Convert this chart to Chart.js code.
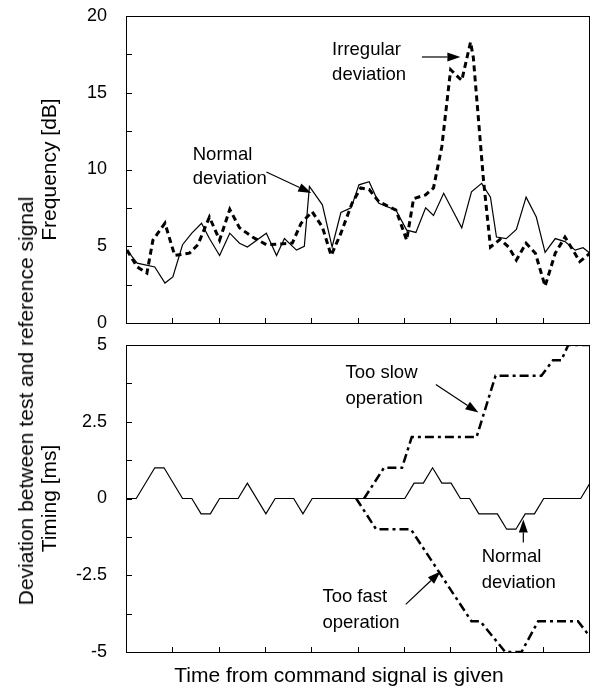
<!DOCTYPE html>
<html>
<head>
<meta charset="utf-8">
<script src="https://cdn.jsdelivr.net/npm/chart.js@4.4.1/dist/chart.umd.min.js"></script>
<style>
  body { margin: 0; background: #fff; font-family: "Liberation Sans", Arial, sans-serif; color: #000; }
  #wrap { position: relative; width: 591px; height: 689px; overflow: hidden; }
  canvas { position: absolute; left: 0; }
  #freqChart { top: 0; }
  #timingChart { top: 335px; }
  .side-title { position: absolute; left: 26px; top: 401px; transform: translate(-50%, -50%) rotate(-90deg); white-space: nowrap; font-size: 21px; }
  .bottom-title { position: absolute; left: 339px; top: 675px; transform: translate(-50%, -50%); white-space: nowrap; font-size: 21px; }
</style>
</head>
<body>
<div id="wrap">
  <canvas id="freqChart" width="591" height="335"></canvas>
  <canvas id="timingChart" width="591" height="354"></canvas>
  <div class="side-title">Deviation between test and reference signal</div>
  <div class="bottom-title">Time from command signal is given</div>
</div>
<script>
// time axis runs 0..10 (one unit per tick mark, no labels)
const freqNormalX = [0, 0.22, 0.6, 0.82, 0.99, 1.2, 1.4, 1.61, 1.78, 2.0, 2.22, 2.43, 2.6, 3.01, 3.23, 3.4, 3.66, 3.83, 3.94, 4.22, 4.43, 4.62, 4.84, 5.01, 5.23, 5.44, 5.81, 6.04, 6.24, 6.45, 6.62, 6.84, 7.23, 7.44, 7.66, 7.85, 7.98, 8.19, 8.41, 8.62, 8.84, 9.03, 9.25, 9.46, 9.68, 9.85, 10];
const freqNormalY = [4.75, 3.9, 3.65, 2.6, 3.0, 5.1, 5.85, 6.5, 5.5, 4.4, 5.85, 5.2, 4.95, 5.85, 4.4, 5.5, 4.75, 5.0, 8.9, 7.7, 4.95, 7.2, 7.5, 9.0, 9.2, 7.8, 7.35, 6.05, 5.9, 7.5, 7.0, 8.45, 6.2, 8.55, 9.1, 8.2, 5.6, 5.5, 6.1, 8.2, 6.9, 4.6, 5.5, 5.3, 4.75, 4.9, 4.55];

const freqIrregularX = [0, 0.22, 0.43, 0.56, 0.82, 1.03, 1.35, 1.53, 1.78, 2.0, 2.22, 2.43, 2.71, 3.01, 3.57, 3.76, 4.0, 4.22, 4.41, 4.62, 4.86, 5.05, 5.23, 5.44, 5.81, 6.04, 6.19, 6.45, 6.62, 6.8, 6.99, 7.23, 7.42, 7.48, 7.7, 7.85, 8.06, 8.24, 8.41, 8.62, 8.82, 9.03, 9.25, 9.46, 9.78, 10];
const freqIrregularY = [4.75, 3.65, 3.25, 5.4, 6.5, 4.4, 4.55, 5.1, 6.9, 5.4, 7.4, 6.2, 5.6, 5.1, 5.2, 6.5, 7.25, 6.25, 4.4, 5.85, 7.8, 8.8, 8.7, 7.9, 7.35, 5.4, 8.1, 8.35, 8.8, 11.5, 16.5, 15.8, 18.3, 17.3, 9.3, 4.95, 5.45, 4.95, 4.1, 5.2, 4.55, 2.4, 4.55, 5.6, 4.0, 4.55];

const timingNormalX = [0, 0.2, 0.6, 0.8, 1.2, 1.4, 1.6, 1.8, 2.0, 2.4, 2.6, 3.0, 3.2, 3.6, 3.8, 4.0, 6.0, 6.2, 6.4, 6.6, 6.8, 7.0, 7.2, 7.4, 7.6, 8.0, 8.2, 8.4, 8.6, 8.8, 9.0, 9.8, 10];
const timingNormalY = [0, 0, 1, 1, 0, 0, -0.5, -0.5, 0, 0, 0.5, -0.5, 0, 0, -0.5, 0, 0, 0.5, 0.5, 1, 0.5, 0.5, 0, 0, -0.5, -0.5, -1, -1, -0.5, -0.5, 0, 0, 0.5];

const timingSlowX = [5.12, 5.55, 5.94, 6.15, 7.55, 7.96, 8.95, 9.2, 9.38, 9.53, 10];
const timingSlowY = [0, 1, 1, 2, 2, 4, 4, 4.5, 4.5, 5, 5];

const timingFastX = [4.95, 5.38, 6.13, 7.44, 7.63, 8.17, 8.52, 8.88, 9.74, 10];
const timingFastY = [0, -1, -1, -4, -4, -5, -5, -4, -4, -4.5];

const FONT = "'Liberation Sans', Arial, sans-serif";
Chart.defaults.font.family = FONT;
Chart.defaults.color = "#000";

const pts = (xs, ys) => xs.map((x, i) => ({ x, y: ys[i] }));

// box, inward ticks, callout text and arrows
const framePlugin = {
  id: "frame",
  afterDraw(chart, args, opts) {
    const { ctx, chartArea: a, scales: { x, y } } = chart;
    ctx.save();
    ctx.strokeStyle = "#000";
    ctx.lineWidth = 1;
    ctx.strokeRect(a.left - 0.5, a.top + 0.5, a.right - a.left, a.bottom - a.top);
    ctx.beginPath();
    y.ticks.forEach(t => {
      const py = Math.round(y.getPixelForValue(t.value)) + 0.5;
      ctx.moveTo(a.left, py); ctx.lineTo(a.left + 5, py);
    });
    x.ticks.forEach(t => {
      const px = Math.round(x.getPixelForValue(t.value)) - 0.5;
      ctx.moveTo(px, a.bottom); ctx.lineTo(px, a.bottom - 5);
    });
    ctx.stroke();

    ctx.fillStyle = "#000";
    ctx.font = "18.5px " + FONT;
    ctx.textAlign = "left";
    ctx.textBaseline = "middle";
    (opts.notes || []).forEach(n => {
      ctx.fillText(n.text, x.getPixelForValue(n.x), y.getPixelForValue(n.y));
    });

    (opts.arrows || []).forEach(ar => {
      const x1 = x.getPixelForValue(ar.from[0]), y1 = y.getPixelForValue(ar.from[1]);
      const x2 = x.getPixelForValue(ar.to[0]), y2 = y.getPixelForValue(ar.to[1]);
      const ang = Math.atan2(y2 - y1, x2 - x1);
      const len = 13, half = 4.5;
      ctx.lineWidth = 1.2;
      ctx.beginPath();
      ctx.moveTo(x1, y1);
      ctx.lineTo(x2 - len * Math.cos(ang), y2 - len * Math.sin(ang));
      ctx.stroke();
      ctx.beginPath();
      ctx.moveTo(x2, y2);
      ctx.lineTo(x2 - len * Math.cos(ang) + half * Math.sin(ang), y2 - len * Math.sin(ang) - half * Math.cos(ang));
      ctx.lineTo(x2 - len * Math.cos(ang) - half * Math.sin(ang), y2 - len * Math.sin(ang) + half * Math.cos(ang));
      ctx.closePath();
      ctx.fill();
    });
    ctx.restore();
  }
};

function makeChart(canvas, datasets, cfg) {
  return new Chart(canvas, {
    type: "line",
    data: { datasets },
    options: {
      responsive: false,
      animation: false,
      events: [],
      layout: { padding: cfg.padding },
      elements: { point: { radius: 0 }, line: { tension: 0, fill: false } },
      plugins: {
        legend: { display: false },
        tooltip: { enabled: false },
        frame: { notes: cfg.notes, arrows: cfg.arrows }
      },
      scales: {
        x: {
          type: "linear", min: 0, max: 10,
          ticks: { stepSize: 1, display: false },
          grid: { display: false }, border: { display: false },
          afterFit: s => { s.height = cfg.xHeight; s.paddingLeft = 0; s.paddingRight = 0; }
        },
        y: {
          min: cfg.yMin, max: cfg.yMax,
          ticks: {
            stepSize: cfg.yStep, padding: 12, autoSkip: false, font: { size: 18 },
            callback: v => (Math.abs(v % cfg.yLabelEvery) < 1e-9 ? String(v) : "")
          },
          grid: { display: false }, border: { display: false },
          title: { display: true, text: cfg.yTitle, font: { size: 21 }, padding: { top: 38 } },
          afterFit: s => { s.width = 127; s.paddingTop = 0; s.paddingBottom = 0; }
        }
      }
    },
    plugins: [framePlugin]
  });
}

makeChart(document.getElementById("freqChart"), [
  { data: pts(freqNormalX, freqNormalY), borderColor: "#000", borderWidth: 1.2 },
  { data: pts(freqIrregularX, freqIrregularY), borderColor: "#000", borderWidth: 3, borderDash: [6, 4] }
], {
  padding: { top: 16, right: 1, left: 0, bottom: 0 },
  xHeight: 12,
  yMin: 0, yMax: 20, yStep: 2.5, yLabelEvery: 5,
  yTitle: "Frequency [dB]",
  notes: [
    { text: "Irregular", x: 4.43, y: 17.8 },
    { text: "deviation", x: 4.43, y: 16.15 },
    { text: "Normal", x: 1.42, y: 10.94 },
    { text: "deviation", x: 1.42, y: 9.38 }
  ],
  arrows: [
    { from: [6.37, 17.33], to: [7.2, 17.33] },
    { from: [3.01, 9.84], to: [3.98, 8.47] }
  ]
});

makeChart(document.getElementById("timingChart"), [
  { data: pts(timingNormalX, timingNormalY), borderColor: "#000", borderWidth: 1.2 },
  { data: pts(timingSlowX, timingSlowY), borderColor: "#000", borderWidth: 2.5, borderDash: [9, 4, 3, 4] },
  { data: pts(timingFastX, timingFastY), borderColor: "#000", borderWidth: 2.5, borderDash: [9, 4, 3, 4] }
], {
  padding: { top: 10, right: 1, left: 0, bottom: 0 },
  xHeight: 37,
  yMin: -5, yMax: 5, yStep: 1.25, yLabelEvery: 2.5,
  yTitle: "Timing [ms]",
  notes: [
    { text: "Too slow", x: 4.72, y: 4.1 },
    { text: "operation", x: 4.72, y: 3.26 },
    { text: "Normal", x: 7.66, y: -1.89 },
    { text: "deviation", x: 7.66, y: -2.74 },
    { text: "Too fast", x: 4.22, y: -3.19 },
    { text: "operation", x: 4.22, y: -4.04 }
  ],
  arrows: [
    { from: [6.67, 3.71], to: [7.59, 2.8] },
    { from: [8.56, -1.43], to: [8.56, -0.68] },
    { from: [6.02, -3.45], to: [6.77, -2.38] }
  ]
});
</script>
</body>
</html>
